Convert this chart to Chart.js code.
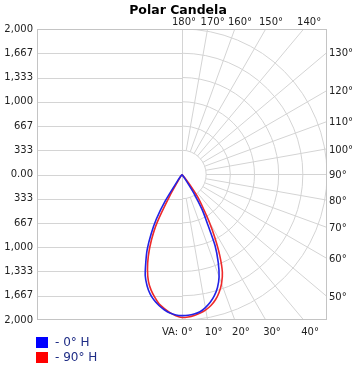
<!DOCTYPE html>
<html>
<head>
<meta charset="utf-8">
<script src="https://cdn.jsdelivr.net/npm/chart.js@4"></script>
<style>
html,body{margin:0;padding:0;background:#fff;}
#wrap{width:356px;height:370px;}
</style>
</head>
<body>
<div id="wrap"><canvas id="c" width="356" height="370"></canvas></div>
<script>
const chartTitle = 'Polar Candela';
const seriesLabels = ['0° H', '90° H'];
// vertical angles (degrees from nadir)
const angles = [0,2.5,5,7.5,10,12.5,15,17.5,20,22.5,25,27.5,30,32.5,35,37.5,40,42.5,45];
// candela, 0° H plane (right half) and its opposite 180° H (left half)
const cd0H   = [1940,1937,1925,1903,1858,1800,1725,1628,1495,1305,1080,755,550,310,85,15,0,0,0];
const cd180H = [1940,1932,1912,1875,1828,1772,1700,1603,1482,1305,1135,925,710,430,110,15,0,0,0];
// candela, 90° H plane (right half) and 270° H (left half)
const cd90H  = [1966,1960,1945,1922,1890,1845,1783,1700,1595,1455,1235,985,750,530,380,165,35,5,0];
const cd270H = [1966,1942,1906,1860,1808,1731,1646,1540,1392,1214,1002,745,330,70,10,0,0,0,0];
// axis ticks
const yTickValues = [2000, 1666.67, 1333.33, 1000, 666.67, 333.33, 0, -333.33, -666.67, -1000, -1333.33, -1666.67, -2000];
const yTickLabels = ['2,000','1,667','1,333','1,000','667','333','0.00','333','667','1,000','1,333','1,667','2,000'];
const ringValues = [333.33, 666.67, 1000, 1333.33, 1666.67, 2000];
const gridAngles = [0,10,20,30,40,50,60,70,80,90,100,110,120,130,140,150,160,170,180];
const angleLabels = ['0°','10°','20°','30°','40°','50°','60°','70°','80°','90°','100°','110°','120°','130°','140°','150°','160°','170°','180°'];
const vaPrefix = 'VA: ';

function polarPoints(rightVals, leftVals) {
  const pts = [];
  for (let i = angles.length - 1; i >= 0; i--) {
    const t = angles[i] * Math.PI / 180;
    pts.push({x: -leftVals[i] * Math.sin(t), y: -leftVals[i] * Math.cos(t)});
  }
  for (let i = 1; i < angles.length; i++) {
    const t = angles[i] * Math.PI / 180;
    pts.push({x: rightVals[i] * Math.sin(t), y: -rightVals[i] * Math.cos(t)});
  }
  return pts;
}

const gridColor = '#d4d4d4';
const borderColor = '#c4c4c4';
const textColor = '#222222';
const labelFont = '10px "DejaVu Sans"';

const polarGrid = {
  id: 'polarGrid',
  beforeDatasetsDraw(chart) {
    const {ctx, chartArea: a, scales: {x, y}} = chart;
    const cx = x.getPixelForValue(0), cy = y.getPixelForValue(0);
    ctx.save();
    ctx.beginPath(); ctx.rect(a.left, a.top, a.right - a.left, a.bottom - a.top); ctx.clip();
    ctx.strokeStyle = gridColor; ctx.lineWidth = 1;
    yTickValues.forEach(v => {
      const py = Math.round(y.getPixelForValue(v)) + 0.5;
      ctx.beginPath(); ctx.moveTo(a.left, py); ctx.lineTo(cx, py); ctx.stroke();
    });
    const vx = Math.round(cx) + 0.5;
    ctx.beginPath(); ctx.moveTo(vx, a.top); ctx.lineTo(vx, a.bottom); ctx.stroke();
    ringValues.forEach(r => {
      const rx = x.getPixelForValue(r) - cx;
      const ry = cy - y.getPixelForValue(r);
      ctx.beginPath(); ctx.ellipse(cx, cy, rx, ry, 0, -Math.PI / 2, Math.PI / 2); ctx.stroke();
    });
    gridAngles.forEach(d => {
      if (d % 180 === 0) return;
      const t = d * Math.PI / 180;
      const r0 = ringValues[0], r1 = 6000;
      ctx.beginPath();
      ctx.moveTo(x.getPixelForValue(r0 * Math.sin(t)), y.getPixelForValue(-r0 * Math.cos(t)));
      ctx.lineTo(x.getPixelForValue(r1 * Math.sin(t)), y.getPixelForValue(-r1 * Math.cos(t)));
      ctx.stroke();
    });
    ctx.restore();
    ctx.save();
    ctx.strokeStyle = borderColor; ctx.lineWidth = 1;
    ctx.strokeRect(Math.round(a.left) + 0.5, Math.round(a.top) + 0.5, Math.round(a.right - a.left) - 1, Math.round(a.bottom - a.top) - 1);
    ctx.restore();
  },
  afterDraw(chart) {
    const {ctx, chartArea: a, scales: {x, y}} = chart;
    const cx = x.getPixelForValue(0), cy = y.getPixelForValue(0);
    ctx.save();
    ctx.font = labelFont; ctx.fillStyle = textColor;
    gridAngles.forEach((d, i) => {
      const t = d * Math.PI / 180;
      const s = Math.sin(t), c = Math.cos(t);
      let best = Infinity, edge = null;
      if (s > 1e-6) { const k = (a.right - cx) / s; if (k < best) { best = k; edge = 'right'; } }
      if (c > 1e-6) { const k = (a.bottom - cy) / c; if (k < best) { best = k; edge = 'bottom'; } }
      if (c < -1e-6) { const k = (a.top - cy) / c; if (k < best) { best = k; edge = 'top'; } }
      const ex = cx + best * s, ey = cy + best * c;
      const txt = angleLabels[i];
      if (edge === 'right') {
        ctx.textAlign = 'left'; ctx.textBaseline = 'middle';
        ctx.fillText(txt, a.right + 2, ey + 1);
      } else if (edge === 'bottom') {
        ctx.textBaseline = 'middle';
        if (d === 0) {
          ctx.textAlign = 'right';
          ctx.fillText(vaPrefix + txt, ex + 5 + ctx.measureText(txt).width / 2, a.bottom + 12);
        } else {
          ctx.textAlign = 'center';
          ctx.fillText(txt, ex + 6, a.bottom + 12);
        }
      } else {
        ctx.textAlign = 'center'; ctx.textBaseline = 'middle';
        ctx.fillText(txt, ex + (d === 180 ? 2 : 5), a.top - 7);
      }
    });
    ctx.font = '12px "DejaVu Sans"';
    ctx.textAlign = 'left'; ctx.textBaseline = 'middle';
    chart.data.datasets.forEach((ds, i) => {
      const top = a.bottom + 17 + i * 15;
      ctx.fillStyle = ds.legendColor;
      ctx.fillRect(36, top, 12, 11);
      ctx.fillStyle = '#1f2d86';
      ctx.fillText('- ' + ds.label, 55, top + 6);
    });
    ctx.restore();
  }
};

new Chart(document.getElementById('c'), {
  type: 'scatter',
  data: {
    datasets: [
      {label: seriesLabels[0], data: polarPoints(cd0H, cd180H), showLine: true, borderColor: '#2222e6', legendColor: '#0000ff', borderWidth: 1.6, pointRadius: 0, tension: 0.2, fill: false},
      {label: seriesLabels[1], data: polarPoints(cd90H, cd270H), showLine: true, borderColor: '#ee2a2a', legendColor: '#ff0000', borderWidth: 1.6, pointRadius: 0, tension: 0.2, fill: false}
    ]
  },
  options: {
    responsive: false,
    animation: false,
    devicePixelRatio: 1,
    layout: {padding: {left: 0, right: 0, top: 0, bottom: 50}},
    plugins: {
      legend: {display: false},
      tooltip: {enabled: false},
      title: {
        display: true, text: chartTitle, color: '#000',
        font: {family: 'DejaVu Sans', size: 12.5, weight: 'bold', lineHeight: 1.2},
        padding: {top: 3, bottom: 11}
      }
    },
    scales: {
      x: {type: 'linear', min: -2000, max: 2000, display: false},
      y: {
        type: 'linear', min: -2000, max: 2000, position: 'left',
        afterBuildTicks: s => { s.ticks = yTickValues.slice().sort((p, q) => p - q).map(v => ({value: v})); },
        afterFit: s => { s.width = 37; },
        grid: {display: false, drawTicks: false},
        border: {display: false},
        ticks: {
          padding: 4, color: textColor, autoSkip: false,
          font: {family: 'DejaVu Sans', size: 10},
          callback: v => { const i = yTickValues.findIndex(t => Math.abs(t - v) < 1); return i >= 0 ? yTickLabels[i] : ''; }
        }
      },
      yRight: {
        type: 'linear', min: -2000, max: 2000, position: 'right', display: true,
        afterFit: s => { s.width = 29; },
        grid: {display: false, drawTicks: false},
        border: {display: false},
        ticks: {display: false}
      }
    }
  },
  plugins: [polarGrid]
});
</script>
</body>
</html>
